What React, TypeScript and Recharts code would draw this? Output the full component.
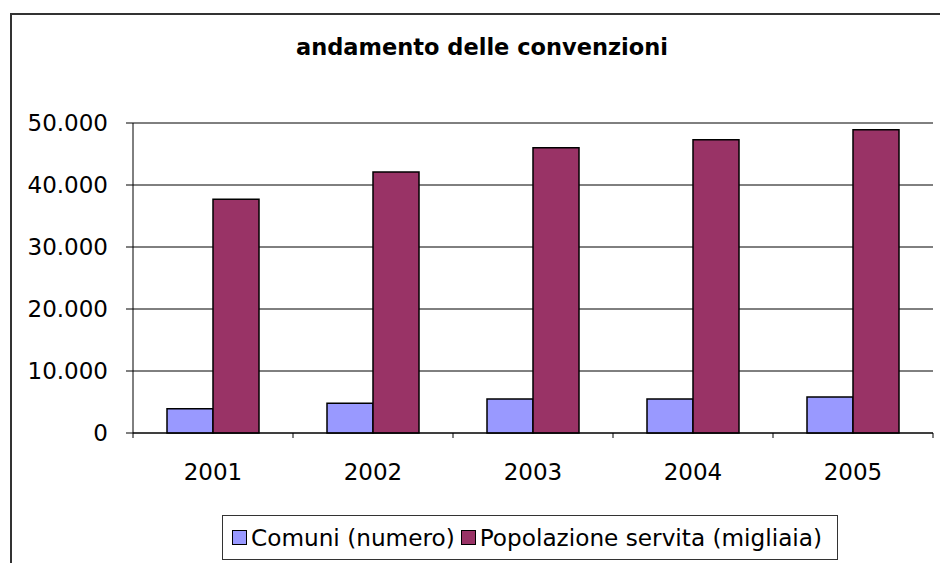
import React from 'react';
import { BarChart, Bar, XAxis, YAxis, CartesianGrid } from 'recharts';

// values
const years = ['2001', '2002', '2003', '2004', '2005'];
const comuni = [3900, 4800, 5500, 5500, 5800];
const popolazione = [37700, 42100, 46000, 47300, 48900];
const yTicks = [0, 10000, 20000, 30000, 40000, 50000];

const series = [
  { key: 'comuni', name: 'Comuni (numero)', color: '#9999ff' },
  { key: 'popolazione', name: 'Popolazione servita (migliaia)', color: '#993366' },
];

const data = years.map((year, i) => ({
  year,
  comuni: comuni[i],
  popolazione: popolazione[i],
}));

const FONT = '"DejaVu Sans", Verdana, sans-serif';
const W = 940;
const H = 563;
const PLOT_LEFT = 133;
const PLOT_RIGHT = 933;
const band = (PLOT_RIGHT - PLOT_LEFT) / years.length;

// 50000 -> "50.000"
const fmt = (v: number) => String(v).replace(/\B(?=(\d{3})+(?!\d))/g, '.');

// Excel-style category axis: tick marks sit between categories, labels in the middle
function YearTick(props: any) {
  const { x, y, payload, index } = props;
  const left = x - band / 2;
  const right = x + band / 2;
  return (
    <g>
      <line x1={left} y1={y} x2={left} y2={y + 5} stroke="#000" />
      {index === years.length - 1 && <line x1={right} y1={y} x2={right} y2={y + 5} stroke="#000" />}
      <text x={x} y={y + 47} textAnchor="middle" fontSize={23} fontFamily={FONT} fill="#000">
        {payload.value}
      </text>
    </g>
  );
}

export default function App() {
  return (
    <div style={{ position: 'absolute', left: 0, top: 0, width: W, height: H, overflow: 'hidden', background: '#fff', fontFamily: FONT }}>
      <div style={{ position: 'absolute', left: 10, top: 13, width: 1000, height: 700, border: '2px solid #333', boxSizing: 'border-box' }} />
      <div style={{ position: 'absolute', left: 0, width: 964, top: 34, textAlign: 'center', fontWeight: 'bold', fontSize: 22.5, color: '#000' }}>
        andamento delle convenzioni
      </div>

      <div style={{ position: 'absolute', left: 0, top: 0 }}>
        <BarChart
          width={W}
          height={H}
          data={data}
          margin={{ top: 123, right: W - PLOT_RIGHT, left: 0, bottom: 100 }}
          barGap={0}
        >
          <CartesianGrid vertical={false} stroke="#000" horizontalValues={yTicks} />
          <XAxis
            dataKey="year"
            height={30}
            axisLine={{ stroke: '#000' }}
            tickLine={false}
            tickSize={0}
            tickMargin={0}
            tick={<YearTick />}
            interval={0}
          />
          <YAxis
            width={PLOT_LEFT}
            domain={[0, 50000]}
            ticks={yTicks}
            interval={0}
            tickFormatter={fmt}
            axisLine={{ stroke: '#000' }}
            tickLine={{ stroke: '#000' }}
            tickSize={7}
            tickMargin={18}
            tick={{ fill: '#000', fontSize: 23, fontFamily: FONT }}
          />
          {series.map((s) => (
            <Bar
              key={s.key}
              dataKey={s.key}
              name={s.name}
              fill={s.color}
              stroke="#000"
              strokeWidth={1.5}
              barSize={46}
              isAnimationActive={false}
            />
          ))}
        </BarChart>
      </div>

      <div
        style={{
          position: 'absolute',
          left: 222,
          top: 515,
          width: 616,
          height: 45,
          border: '1px solid #333',
          boxSizing: 'border-box',
          display: 'flex',
          alignItems: 'center',
          paddingLeft: 9,
          fontSize: 23.2,
          color: '#000',
          whiteSpace: 'nowrap',
        }}
      >
        {series.map((s) => (
          <span key={s.key} style={{ display: 'inline-flex', alignItems: 'center', marginRight: 6 }}>
            <span style={{ display: 'inline-block', width: 13, height: 13, background: s.color, border: '1px solid #000', marginRight: 4 }} />
            {s.name}
          </span>
        ))}
      </div>
    </div>
  );
}
